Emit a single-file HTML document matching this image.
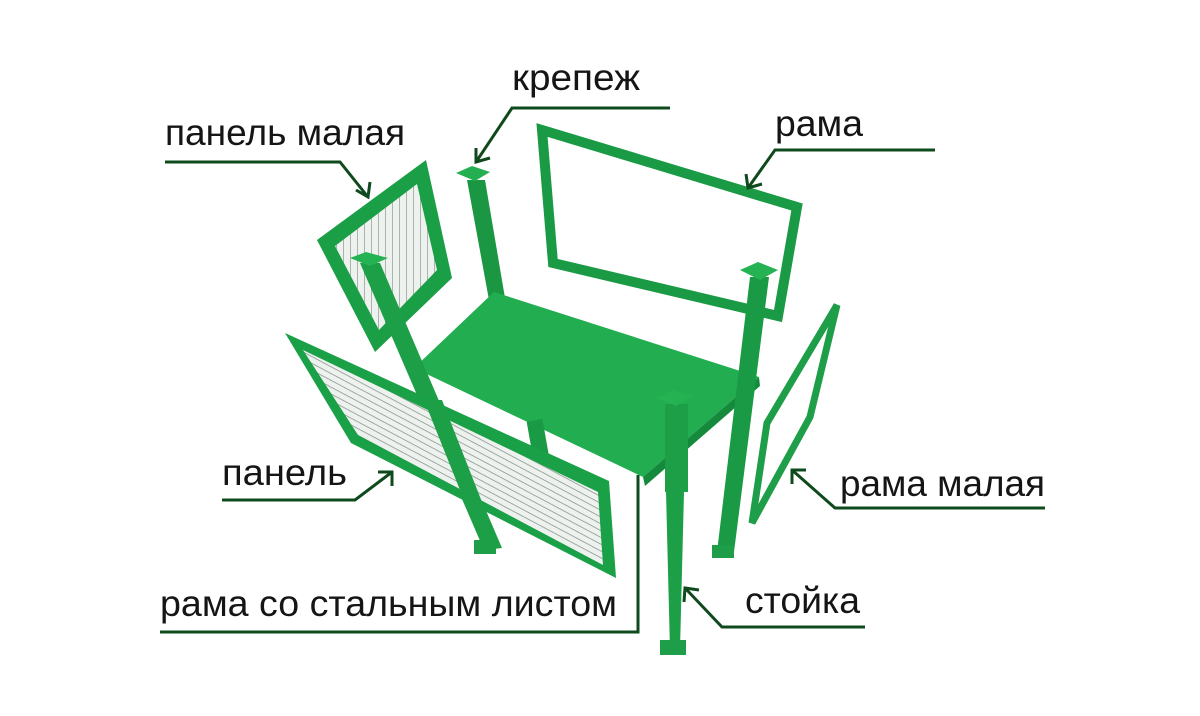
<!DOCTYPE html>
<html><head><meta charset="utf-8"><style>
html,body{margin:0;padding:0;background:#fff;}
svg{display:block}
text{font-family:"Liberation Sans",sans-serif;font-size:37px;fill:#151515}
</style></head><body>
<svg width="1200" height="716" viewBox="0 0 1200 716" xmlns="http://www.w3.org/2000/svg">
<defs>
<pattern id="mesh" width="7" height="7" patternUnits="userSpaceOnUse">
<rect width="7" height="7" fill="#eef2ee"/>
<path d="M0 0V7" stroke="#8c988f" stroke-width="1.4"/>
</pattern>
<pattern id="mesh2" width="6" height="6" patternUnits="userSpaceOnUse" patternTransform="rotate(28)">
<rect width="6" height="6" fill="#eef2ee"/>
<path d="M0 0H6" stroke="#85918a" stroke-width="1.5"/>
</pattern>
</defs>
<g stroke-linejoin="miter">
<polygon points="542,130 797,207 778,316 553,263" fill="none" stroke="#1a9a44" stroke-width="10"/>
<polygon points="467,180 485,180 505,298 489,300" fill="#1b9744"/>
<polygon points="456,173 472,166 490,172 475,181" fill="#24b050"/>
<polygon points="317,240 426,160 452,278 375,352" fill="#1a9e46"/>
<polygon points="335,246 417,184 437,270 379,330" fill="url(#mesh)"/>
<polygon points="414,368 494,292 759,377 643,477" fill="#22ad50"/>
<polygon points="643,477 759,377 760,386 645,486" fill="#168a3c"/>
<rect x="530" y="420" width="16" height="42" fill="#1a9a44" transform="rotate(-10 538 440)"/>
<polygon points="360,263 380,263 502,548 484,550" fill="#1c9f47"/>
<polygon points="350,258 366,252 388,258 370,266" fill="#25b252"/>
<rect x="474" y="540" width="22" height="14" fill="#1e9e48"/>
<polygon points="285,333 609,481 616,578 351,443" fill="#1aa047"/>
<polygon points="303,350 598,492 603,565 358,435" fill="url(#mesh2)"/>
<polygon points="424,400 442,400 500,548 484,550" fill="#1c9f47"/>
<polygon points="750,277 769,277 734,552 717,552" fill="#1a9a44"/>
<polygon points="740,270 758,262 778,270 760,280" fill="#25b252"/>
<rect x="712" y="545" width="22" height="13" fill="#1e9e48"/>
<polygon points="665,404 688,404 688,492 684,492 680,650 670,650 666,492 665,492" fill="#1c9f47"/>
<polygon points="656,398 672,390 694,396 676,406" fill="#25b252"/>
<rect x="660" y="640" width="26" height="15" fill="#1e9e48"/>
<polygon points="767,423 837,305 810,417 752,523" fill="none" stroke="#1e9e48" stroke-width="7"/>
</g>
<g fill="none" stroke="#0f4a1d" stroke-width="3">
<path d="M165 162H340L368 197M356 190L368 197L370 182"/>
<path d="M670 108H512L476 162M476 148L476 162L490 158"/>
<path d="M935 150H775L748 188M746 174L748 188L762 184"/>
<path d="M1045 508H835L792 470M792 484L792 470L806 470"/>
<path d="M222 500H355L392 472M378 472L392 472L392 486"/>
<path d="M160 632H638V475"/>
<path d="M865 627H722L685 588M684 602L685 588L699 590"/>
</g>
<text x="165" y="145" textLength="240" lengthAdjust="spacingAndGlyphs">панель малая</text>
<text x="512" y="90" textLength="128" lengthAdjust="spacingAndGlyphs">крепеж</text>
<text x="775" y="136" textLength="88" lengthAdjust="spacingAndGlyphs">рама</text>
<text x="222" y="485" textLength="125" lengthAdjust="spacingAndGlyphs">панель</text>
<text x="840" y="496" textLength="205" lengthAdjust="spacingAndGlyphs">рама малая</text>
<text x="160" y="616" textLength="457" lengthAdjust="spacingAndGlyphs">рама со стальным листом</text>
<text x="745" y="613" textLength="115" lengthAdjust="spacingAndGlyphs">стойка</text>
</svg>
</body></html>
